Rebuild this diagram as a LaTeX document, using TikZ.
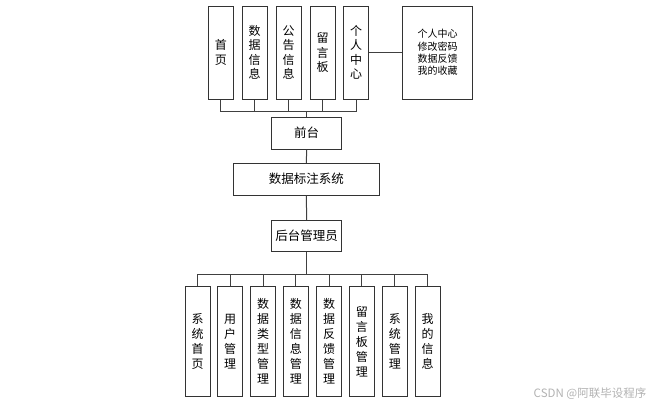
\documentclass[tikz,border=0pt]{standalone}
\usepackage{fontspec}
\setmainfont{Noto Sans CJK SC}
\begin{document}
\begin{tikzpicture}[x=1pt,y=-1pt,
  box/.style={draw=black!80,line width=1pt,inner sep=0pt,font=\fontsize{12}{14.5}\selectfont,align=center},
  vbox/.style={box,minimum width=25pt,minimum height=#1},
  hbox/.style={box,font=\fontsize{12.5}{14}\selectfont},
  wire/.style={draw=black!75,line width=1pt}]
\useasboundingbox (0,0) rectangle (658,408);
% top row
\node[vbox=93pt] (t1) at (220.8,52.5) {首\\页};
\node[vbox=93pt] (t2) at (254.5,52.5) {数\\据\\信\\息};
\node[vbox=93pt] (t3) at (288.5,52.5) {公\\告\\信\\息};
\node[vbox=93pt] (t4) at (322.5,52.5) {留\\言\\板};
\node[vbox=93pt] (t5) at (356,52.5) {个\\人\\中\\心};
\node[box,minimum width=70pt,minimum height=93pt,font=\fontsize{10}{12.3}\selectfont] (t6) at (437.7,52.5) {个人中心\\修改密码\\数据反馈\\我的收藏};
\draw[wire] (t5.east) -- (t6.west);
% bus top
\coordinate (bt) at (306.7,111.7);
\foreach \n in {t1,t2,t3,t4,t5}{\draw[wire] (\n.south) -- (\n.south |- bt);}
\draw[wire] (t1.south |- bt) -- (t5.south |- bt);
% middle
\node[hbox,minimum width=70pt,minimum height=31.7pt] (qt) at (306.7,133.2) {前台};
\node[hbox,minimum width=146pt,minimum height=31.7pt] (sys) at (306.3,179.2) {数据标注系统};
\node[hbox,minimum width=70pt,minimum height=31pt] (ht) at (306.7,236.2) {后台管理员};
\draw[wire] (bt) -- (qt.north);
\draw[wire] (qt.south) -- (sys.north);
\draw[wire] (sys.south) -- (ht.north);
% bottom row
\tikzset{bvbox/.style={vbox=110pt,font=\fontsize{12}{15}\selectfont}}
\node[bvbox] (b1) at (197.5,341.7) {系\\统\\首\\页};
\node[bvbox] (b2) at (230.2,341.7) {用\\户\\管\\理};
\node[bvbox] (b3) at (263.2,341.7) {数\\据\\类\\型\\管\\理};
\node[bvbox] (b4) at (295.8,341.7) {数\\据\\信\\息\\管\\理};
\node[bvbox] (b5) at (329.2,341.7) {数\\据\\反\\馈\\管\\理};
\node[bvbox] (b6) at (361.8,341.7) {留\\言\\板\\管\\理};
\node[bvbox] (b7) at (394.8,341.7) {系\\统\\管\\理};
\node[bvbox] (b8) at (427.5,341.7) {我\\的\\信\\息};
\coordinate (bb) at (306.7,274);
\draw[wire] (ht.south) -- (bb);
\draw[wire] (b1.north |- bb) -- (b8.north |- bb);
\foreach \n in {b1,b2,b3,b4,b5,b6,b7,b8}{\draw[wire] (\n.north |- bb) -- (\n.north);}
% watermark
\node[font=\fontsize{11.5}{13}\selectfont,text=black!30,inner sep=0pt] (wm) at (590,393.5) {CSDN @阿联毕设程序};
\end{tikzpicture}
\end{document}
